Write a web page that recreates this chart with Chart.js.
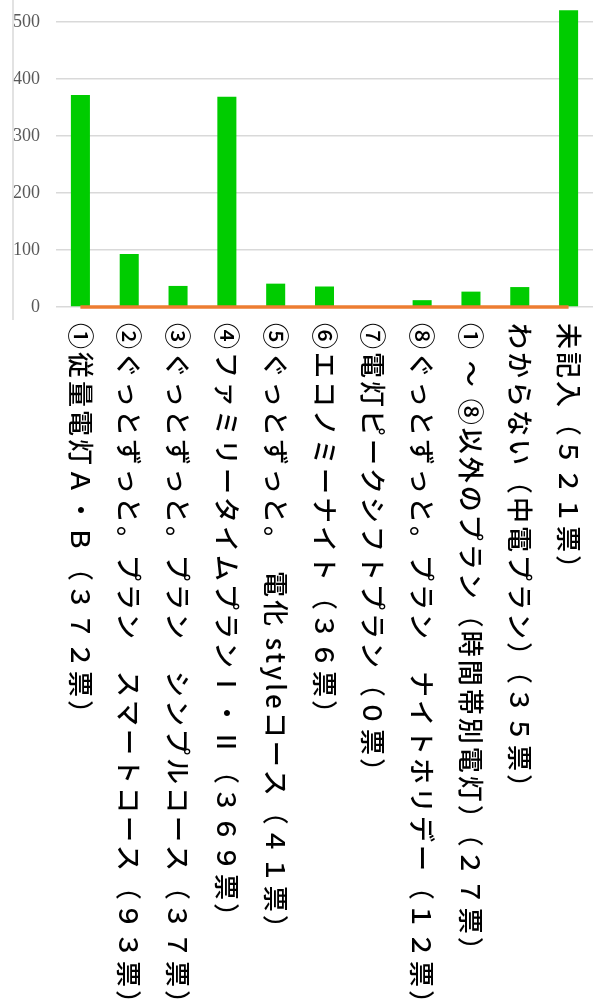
<!DOCTYPE html>
<html>
<head>
<meta charset="utf-8">
<script src="https://cdn.jsdelivr.net/npm/chart.js@4"></script>
<style>
  html, body { margin: 0; padding: 0; background: #fff; }
  #wrap { width: 598px; height: 1000px; }
</style>
</head>
<body>
<div id="wrap"><canvas id="myChart"></canvas></div>
<script>
// plan names (vote counts are part of the label text)
const categories = [
  "①従量電灯Ａ・Ｂ（３７２票）",
  "②ぐっとずっと。プラン　スマートコース（９３票）",
  "③ぐっとずっと。プラン　シンプルコース（３７票）",
  "④ファミリータイムプランⅠ・Ⅱ（３６９票）",
  "⑤ぐっとずっと。　電化 styleコース（４１票）",
  "⑥エコノミーナイト（３６票）",
  "⑦電灯ピークシフトプラン（０票）",
  "⑧ぐっとずっと。プラン　ナイトホリデー（１２票）",
  "① ～ ⑧以外のプラン（時間帯別電灯）（２７票）",
  "わからない（中電プラン）（３５票）",
  "未記入（５２１票）"
];
const votes = [372, 93, 37, 369, 41, 36, 0, 12, 27, 35, 521];
const baseLine = [0, 0, 0, 0, 0, 0, 0, 0, 0, 0, 0];
const yTicks = [0, 100, 200, 300, 400, 500];

// labels are written top-to-bottom, so draw them ourselves
const verticalLabels = {
  id: "verticalLabels",
  afterDraw(chart) {
    const ctx = chart.ctx;
    const xScale = chart.scales.x;
    const area = chart.chartArea;
    ctx.save();
    ctx.font = '500 26px "Noto Sans CJK JP"';
    ctx.fillStyle = "#000";
    ctx.textAlign = "left";
    ctx.textBaseline = "middle";
    if ("letterSpacing" in ctx) ctx.letterSpacing = "3px";
    for (let i = 0; i < categories.length; i++) {
      ctx.save();
      ctx.translate(xScale.getPixelForValue(i), area.bottom + 16);
      ctx.rotate(Math.PI / 2);
      ctx.fillText(categories[i], 0, 0);
      ctx.restore();
    }
    // thin frame line on the far left
    ctx.strokeStyle = "#d9d9d9";
    ctx.lineWidth = 1.5;
    ctx.beginPath();
    ctx.moveTo(13, 0);
    ctx.lineTo(13, area.bottom + 13);
    ctx.stroke();
    ctx.restore();
  }
};

new Chart(document.getElementById("myChart"), {
  data: {
    labels: categories,
    datasets: [
      {
        type: "line",
        data: baseLine,
        borderColor: "#ED7D31",
        borderWidth: 3.5,
        pointRadius: 0,
        clip: false,
        order: 0
      },
      {
        type: "bar",
        data: votes,
        backgroundColor: "#00CC00",
        categoryPercentage: 1,
        barPercentage: 0.39,
        order: 1
      }
    ]
  },
  options: {
    responsive: true,
    maintainAspectRatio: false,
    animation: false,
    layout: { padding: { top: 0, right: 5, bottom: 0, left: 0 } },
    plugins: { legend: { display: false }, tooltip: { enabled: false } },
    scales: {
      x: {
        grid: { display: false },
        border: { display: false },
        ticks: { display: false },
        afterFit(scale) { scale.height = 693; }
      },
      y: {
        min: 0,
        max: 539,
        afterBuildTicks(axis) {
          axis.ticks = yTicks.map((v) => ({ value: v }));
        },
        afterFit(scale) {
          scale.width = 56;
          scale.paddingTop = 0;
          scale.paddingBottom = 0;
        },
        grid: { color: "#d9d9d9", lineWidth: 1.5, drawTicks: false },
        border: { display: false },
        ticks: {
          color: "#595959",
          padding: 16,
          font: { family: "Liberation Serif", size: 18 }
        }
      }
    }
  },
  plugins: [verticalLabels]
});
</script>
</body>
</html>
